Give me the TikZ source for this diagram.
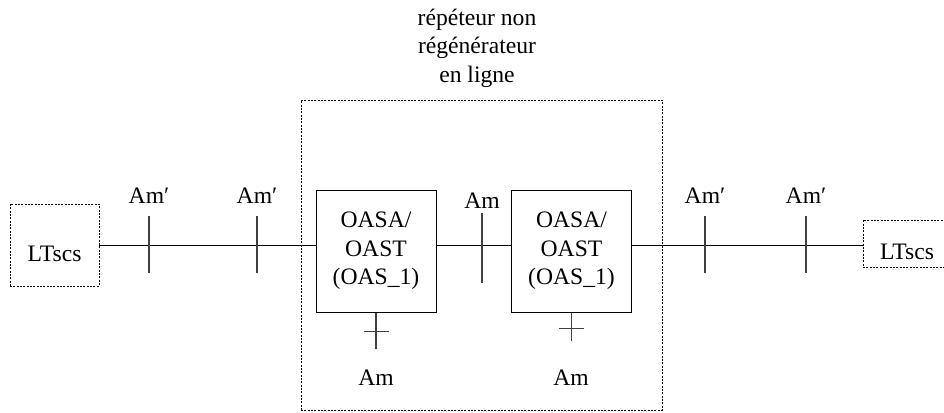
\documentclass[tikz,border=0pt]{standalone}
\usepackage{fontspec}
\setmainfont{Liberation Serif}
\usetikzlibrary{positioning}
\begin{document}
\begin{tikzpicture}[x=0.75pt, y=-0.75pt, font=\fontsize{17.7}{21.4}\selectfont,
	unit/.style={draw, line width=0.75pt, minimum width=90pt, minimum height=91.5pt, align=center, inner sep=0pt},
	term/.style={draw, line width=0.5pt, dash pattern=on 1.5pt off 1pt},
	tick/.style={line width=0.8pt, draw=black!75}]
	\useasboundingbox (0,0) rectangle (944,412);
	% repeteur en ligne
	\node[term, minimum width=270.75pt, minimum height=232.5pt] (rep) at (481.5,255) {};
	\node[align=center] (reptitle) at (477,48) {répéteur non\\régénérateur\\en ligne};
	\node[unit] (oas1) at (376,251) {OASA/\\OAST\\(OAS\_1)};
	\node[unit] (oas2) at (571.5,251) {OASA/\\OAST\\(OAS\_1)};
	% terminaux
	\node[term, minimum width=66.75pt, minimum height=61.5pt, text height=24pt, text depth=0pt] (ltl) at (54.5,245) {LTscs};
	\node[term, minimum width=66pt, minimum height=35.25pt, text height=24pt, text depth=0pt] (ltr) at (907,243.5) {LTscs};
	% ligne
	\draw[line width=0.75pt] (ltl.east) -- (oas1.west |- ltl.east);
	\draw[line width=0.75pt] (oas1.east |- ltl.east) -- (oas2.west |- ltl.east);
	\draw[line width=0.75pt] (oas2.east |- ltl.east) -- (ltr.west |- ltl.east);
	% amplificateurs de ligne
	\foreach \x/\n in {149/a, 257/b, 705/c, 806/d} {
		\coordinate (t\n-top) at (\x,216);
		\coordinate (t\n-bot) at (\x,273);
		\draw[tick] (t\n-top) -- (t\n-bot);
		\node[above=6pt of t\n-top] (am\n) {Am′};
	}
	\coordinate (tm-top) at (482,213);
	\coordinate (tm-bot) at (482,283);
	\draw[tick] (tm-top) -- (tm-bot);
	\node[above=0pt of tm-top] (amm) {Am};
	% amplificateurs des OAS
	\draw[tick] (oas1.south) -- ++(0,36);
	\draw[tick] (oas1.south) ++(-12.5,19) -- ++(25,0);
	\node (am1) at (376,378) {Am};
	\draw[tick] (oas2.south) -- ++(0,28);
	\draw[tick] (oas2.south) ++(-12.5,16) -- ++(25,0);
	\node (am2) at (571,378) {Am};
\end{tikzpicture}
\end{document}
